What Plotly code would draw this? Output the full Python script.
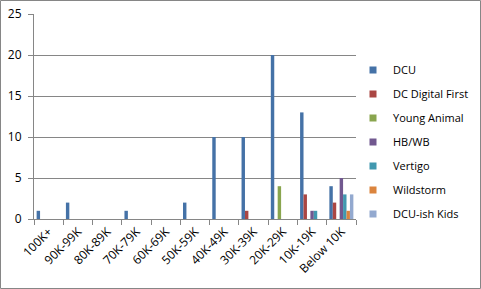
import plotly.graph_objects as go

categories = ["100K+", "90K-99K", "80K-89K", "70K-79K", "60K-69K", "50K-59K",
              "40K-49K", "30K-39K", "20K-29K", "10K-19K", "Below 10K"]
series_names = ["DCU", "DC Digital First", "Young Animal", "HB/WB", "Vertigo",
                "Wildstorm", "DCU-ish Kids"]
dcu = [1, 2, 0, 1, 0, 2, 10, 10, 20, 13, 4]
dc_digital_first = [0, 0, 0, 0, 0, 0, 0, 1, 0, 3, 2]
young_animal = [0, 0, 0, 0, 0, 0, 0, 0, 4, 0, 0]
hb_wb = [0, 0, 0, 0, 0, 0, 0, 0, 0, 1, 5]
vertigo = [0, 0, 0, 0, 0, 0, 0, 0, 0, 1, 3]
wildstorm = [0, 0, 0, 0, 0, 0, 0, 0, 0, 0, 1]
dcu_ish_kids = [0, 0, 0, 0, 0, 0, 0, 0, 0, 0, 3]
y_ticks = [0, 5, 10, 15, 20, 25]

colors = ["#4572A7", "#AA4643", "#89A54E", "#71588F", "#4198AF", "#DB843D", "#93A9CF"]
values = [dcu, dc_digital_first, young_animal, hb_wb, vertigo, wildstorm, dcu_ish_kids]

FONT = "Open Sans, Liberation Sans, sans-serif"
W, H = 481, 289
L, R, T, B = 34, 125, 14, 70

fig = go.Figure()
for name, vals, col in zip(series_names, values, colors):
    fig.add_trace(go.Bar(x=categories, y=vals, name=name, marker_color=col,
                         marker_line_width=0, showlegend=False))
for name, col in zip(series_names, colors):
    fig.add_trace(go.Scatter(x=[None], y=[None], mode="markers", name=name,
                             marker=dict(symbol="square", size=7, color=col),
                             legendgroup=name, showlegend=True))

pw = W - L - R
ph = H - T - B
fig.update_layout(
    width=W, height=H,
    margin=dict(l=L, r=R, t=T, b=B, pad=0, autoexpand=False),
    paper_bgcolor="white", plot_bgcolor="white",
    barmode="group", bargap=0.18, bargroupgap=0,
    font=dict(family=FONT, size=11, color="#000000"),
    showlegend=True,
    legend=dict(x=(353 - L) / pw, y=(H - B - 142) / ph, xanchor="left", yanchor="middle",
                traceorder="grouped", tracegroupgap=5,
                font=dict(family=FONT, size=11, color="#000000"),
                bgcolor="rgba(0,0,0,0)", itemwidth=30),
    xaxis=dict(type="category", tickangle=-45, showgrid=False,
               showline=True, linecolor="#868686", linewidth=1,
               ticks="outside", ticklen=5, tickcolor="#868686",
               tickson="boundaries", tickfont=dict(size=12), fixedrange=True),
    yaxis=dict(range=[0, 25], tickvals=y_ticks, showgrid=True,
               gridcolor="#868686", gridwidth=1, zeroline=False,
               showline=True, linecolor="#868686", linewidth=1,
               ticks="outside", ticklen=5, tickcolor="#868686",
               ticklabelstandoff=4,
               tickfont=dict(size=12), fixedrange=True),
    shapes=[dict(type="rect", xref="paper", yref="paper",
                 x0=(0.5 - L) / pw, x1=(W - 0.5 - L) / pw,
                 y0=-(B - 0.5) / ph, y1=1 + (T - 0.5) / ph,
                 line=dict(color="#868686", width=1), fillcolor="rgba(0,0,0,0)",
                 layer="below")],
)
fig.write_html("out.html")
